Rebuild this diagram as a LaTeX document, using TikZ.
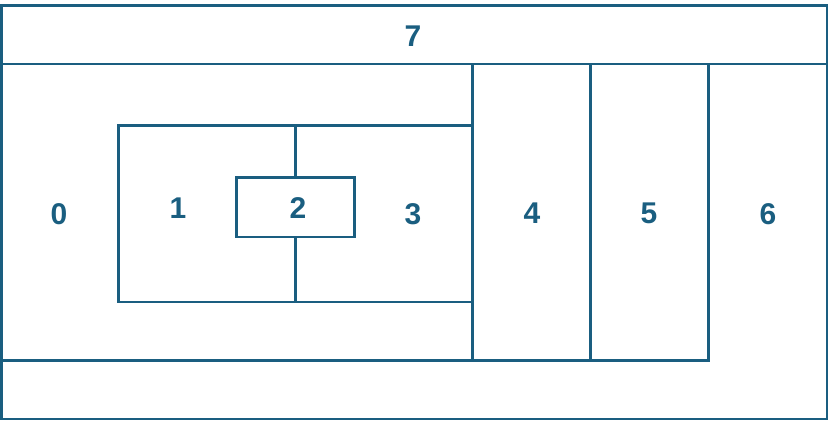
\documentclass[tikz,border=0pt]{standalone}
\usepackage{fontspec}
\setmainfont{Liberation Sans}
\definecolor{tealblue}{HTML}{1A5E80}
\begin{document}
\begin{tikzpicture}[x=1pt,y=-1pt,
  edge/.style={draw=tealblue,line width=2.8pt,line cap=rect},
  lbl/.style={text=tealblue,font=\bfseries\fontsize{30}{30}\selectfont,inner sep=0pt,anchor=center}]
\useasboundingbox (0,0) rectangle (829,421);
% outer frame
\draw[edge] (1.4,5.5) rectangle (827,419);
% horizontal dividers
\draw[edge] (1.4,64) -- (827,64);
\draw[edge] (1.4,360.3) -- (708.3,360.3);
% vertical dividers
\draw[edge] (472.3,64) -- (472.3,360.3);
\draw[edge] (590.3,64) -- (590.3,360.3);
\draw[edge] (708.3,64) -- (708.3,360.3);
% inner rectangle
\draw[edge] (118.7,125.3) -- (472.3,125.3);
\draw[edge] (118.7,302) -- (472.3,302);
\draw[edge] (118.7,125.3) -- (118.7,302);
\draw[edge] (295.3,125.3) -- (295.3,177.3);
\draw[edge] (295.3,237) -- (295.3,302);
% small rectangle
\draw[edge] (236.3,177.3) rectangle (354.5,237);
% labels
\node[lbl] (l7) at (413,36) {7};
\node[lbl] (l0) at (59,214) {0};
\node[lbl] (l1) at (178,208) {1};
\node[lbl] (l2) at (298,208) {2};
\node[lbl] (l3) at (413,214) {3};
\node[lbl] (l4) at (532,213) {4};
\node[lbl] (l5) at (649,213) {5};
\node[lbl] (l6) at (768,214) {6};
\end{tikzpicture}
\end{document}
